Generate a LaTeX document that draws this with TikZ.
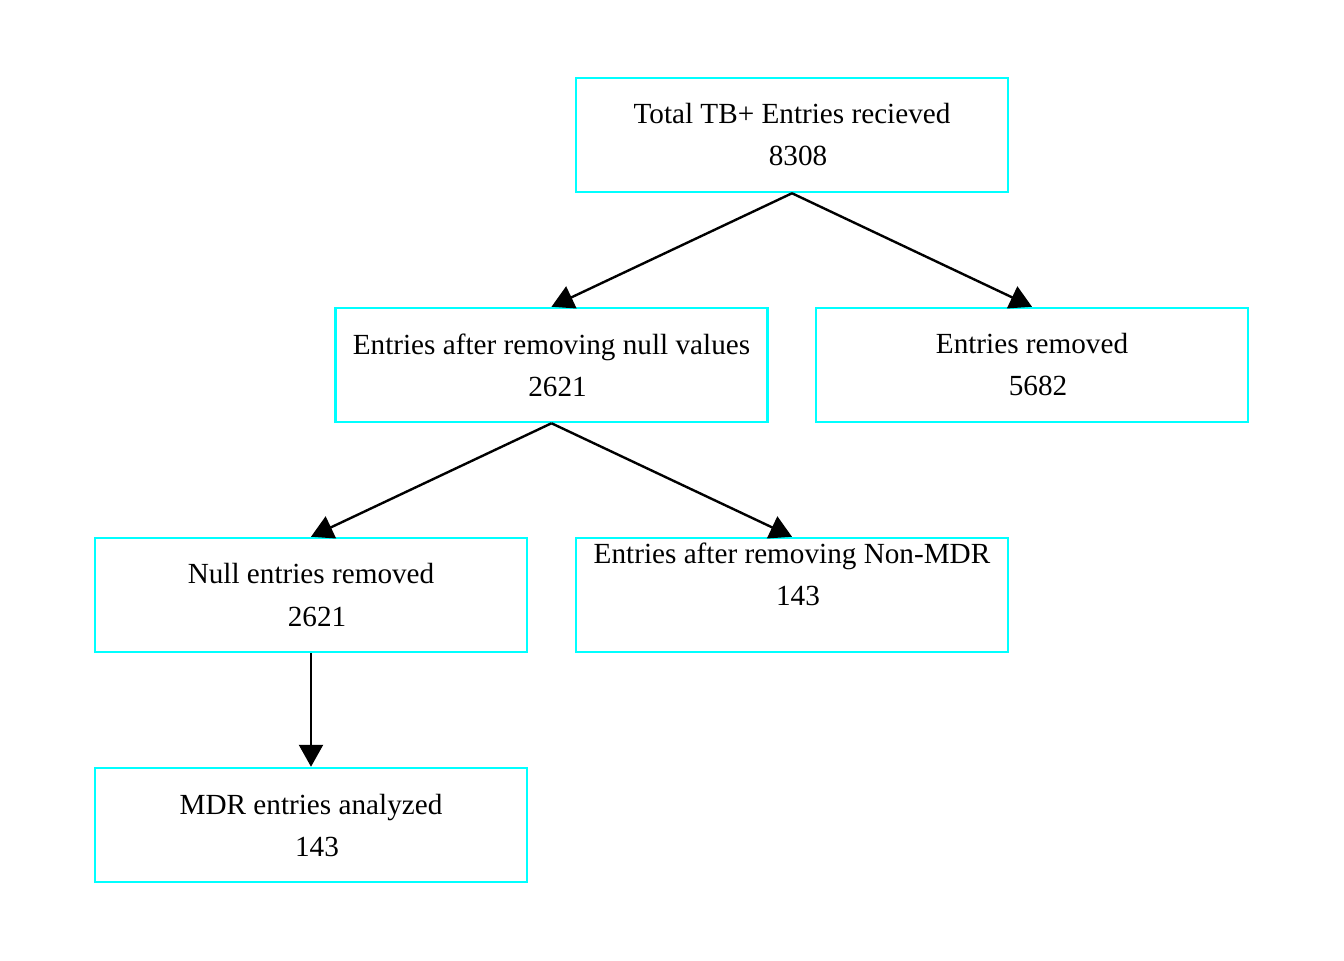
\documentclass[tikz,border=0pt]{standalone}
\usepackage{fontspec}
\setmainfont{Liberation Serif}
\usetikzlibrary{arrows.meta}
\definecolor{boxcyan}{RGB}{0,255,255}
\newcommand{\numsh}[1]{\hspace*{6pt}#1}
\begin{document}
\begin{tikzpicture}[x=0.5pt,y=-0.5pt,
  box/.style={draw=boxcyan, line width=1.25pt, minimum width=216pt, minimum height=57pt, inner sep=0pt, align=center, font=\fontsize{14.6}{21}\selectfont},
  txt/.style={inner sep=0pt, align=center, font=\fontsize{14.6}{21}\selectfont},
  conn/.style={line width=1.2pt, -{Triangle[length=11pt,width=12pt]}}]
\useasboundingbox (0,0) rectangle (1344,960);
\fill[white] (0,0) rectangle (1344,960);
\node[box] (b1) at (792,135) {Total TB+ Entries recieved\\\numsh{8308}};
\node[box] (b2) at (551.5,365) {Entries after removing null values\\\numsh{2621}};
\node[box] (b3) at (1032,365) {Entries removed\\\numsh{5682}};
\node[box] (b4) at (311,595) {Null entries removed\\\numsh{2621}};
\node[box] (b5) at (792,595) {};
\node[txt] (t5) at (792,574) {Entries after removing Non-MDR\\\numsh{143}};
\node[box] (b6) at (311,825) {MDR entries analyzed\\\numsh{143}};
\draw[conn] (b1.south) -- (b2.north);
\draw[conn] (b1.south) -- (b3.north);
\draw[conn] (b2.south) -- (b4.north);
\draw[conn] (b2.south) -- (b5.north);
\draw[conn] (b4.south) -- (b6.north);
\end{tikzpicture}
\end{document}
